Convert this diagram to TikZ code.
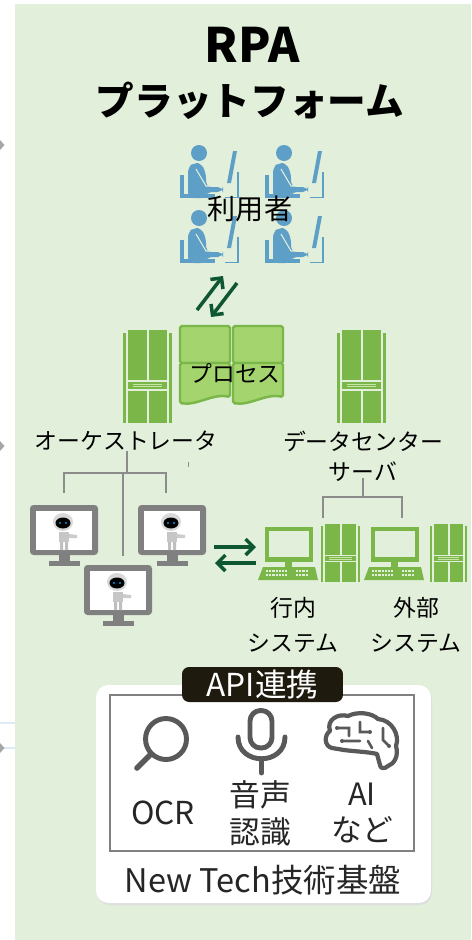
\documentclass[tikz,border=0pt]{standalone}
\usepackage{fontspec}
\setmainfont{Noto Sans CJK JP}
\usepackage{xcolor}
\definecolor{PanelGreen}{HTML}{E2EFDA}
\definecolor{ServerGreen}{HTML}{7AB648}
\definecolor{ProcGreen}{HTML}{A3D46E}
\definecolor{UserBlue}{HTML}{5E9FC7}
\definecolor{FlowGreen}{HTML}{0F5632}
\definecolor{TreeGray}{HTML}{8C8C8C}
\definecolor{MonGray}{HTML}{808080}
\definecolor{IconGray}{HTML}{595959}
\definecolor{ApiDark}{HTML}{1E1A0E}
\definecolor{TextDark}{HTML}{262626}
\definecolor{EdgeBlue}{HTML}{DDEBF7}
\usepackage{tikz}
\usetikzlibrary{positioning,calc,arrows.meta}

\tikzset{
  lbl/.style={font=\fontsize{13}{17}\selectfont, align=center, inner sep=0pt},
  biglbl/.style={font=\fontsize{17.5}{21}\selectfont, text=TextDark, align=center, inner sep=0pt},
  flow/.style={FlowGreen, line width=2pt, -{Straight Barb[length=4.5pt,width=9pt]}},
  tree/.style={TreeGray, line width=1.1pt},
  icon/.style={IconGray, line width=2.8pt, line cap=round, line join=round},
  user/.pic={
    \fill[UserBlue] (19,10) circle (8);
    \fill[UserBlue, rounded corners=3pt] (8,55) -- (8,24) -- (14,20) -- (21,20) -- (26,30) -- (26,44) -- (43,44) -- (43,49) -- (26,49) -- (26,55) -- cycle;
    \draw[PanelGreen, line width=0.6pt] (16,26) -- (26,43) -- (40,43);
    \fill[UserBlue] (0,32) rectangle (4,55);
    \fill[UserBlue] (0,50.5) rectangle (35,55);
    \fill[UserBlue] (53,8) -- (57,8) -- (51,40) -- (47,40) -- cycle;
    \fill[UserBlue] (56.5,29) rectangle (58.5,55);
    \fill[UserBlue] (45,53.5) rectangle (58.5,55);
  },
  server/.pic={
    \fill[ServerGreen] (0,3) rectangle (3,93);
    \fill[ServerGreen] (46,3) rectangle (49,93);
    \fill[ServerGreen] (5,0) rectangle (24,50);
    \fill[ServerGreen] (26,0) rectangle (44,50);
    \fill[ServerGreen] (5,52) rectangle (44,59);
    \fill[ServerGreen] (5,61) rectangle (24,93);
    \fill[ServerGreen] (26,61) rectangle (44,93);
    \draw[ProcGreen!60!white, line width=0.5pt] (10,54) -- (39,54) (10,56.8) -- (39,56.8);
  },
  page/.pic={
    \filldraw[fill=ProcGreen, draw=ServerGreen, line width=1.4pt, rounded corners=1pt] (0,0) rectangle (50,37);
    \filldraw[fill=ProcGreen, draw=ServerGreen, line width=1.4pt, rounded corners=1pt] (0,37) -- (50,37) -- (50,71) .. controls (33,67) and (17,80) .. (0,77) -- cycle;
  },
  botscreen/.pic={
    \fill[MonGray, rounded corners=2pt] (0,0) rectangle (68,50);
    \fill[white] (6,6) rectangle (62,45);
    \fill[MonGray] (29,50) rectangle (40,57);
    \fill[MonGray] (19,56) rectangle (50,61);
    \fill[gray!45] (29,27) rectangle (39,37);
    \fill[gray!40] (39,29) -- (47,30) -- (47,33) -- (39,33) -- cycle;
    \fill[gray!50] (30,37) rectangle (33,45) (35,37) rectangle (38,45);
    \fill[gray!30] (33,17) ellipse (10 and 9);
    \fill[black] (33,18) ellipse (7.5 and 5.5);
    \fill[cyan!80!blue] (30,18) circle (1.2) (36,18) circle (1.2);
  },
  pcset/.pic={
    \fill[ServerGreen] (0,0) rectangle (48,35);
    \fill[PanelGreen] (4,4) rectangle (44,30);
    \fill[ServerGreen] (20,35) rectangle (27,41);
    \fill[ServerGreen] (-2,40) -- (50,40) -- (53,53) -- (-7,53) -- cycle;
    \foreach \r in {42.5,46.5} {
      \foreach \k in {0,...,6} \fill[PanelGreen] (1+3.2*\k,\r) rectangle ++(2.2,2);
      \foreach \k in {0,...,3} \fill[PanelGreen] (31+3.2*\k,\r) rectangle ++(2.2,2);
    }
  }
}

\begin{document}
\begin{tikzpicture}[x=0.02cm, y=-0.02cm]
  \useasboundingbox (0,0) rectangle (471,940);
  \fill[white] (0,0) rectangle (471,940);
  \fill[PanelGreen] (15,4) rectangle (471,940);

  \fill[EdgeBlue] (0,722) rectangle (15,724);
  \fill[EdgeBlue] (0,747) rectangle (15,749);
  \foreach \yy in {145,446,748}
    \fill[gray!70] (0,\yy-5) -- (4.5,\yy) -- (0,\yy+5) -- cycle;

  \node[font=\fontsize{27}{30}\selectfont\bfseries, inner sep=0pt] (title) at (252,45) {RPA};
  \node[font=\fontsize{22}{24}\selectfont\bfseries, inner sep=0pt] (subtitle) at (250,101) {プラットフォーム};

  % users
  \foreach \ux/\uy in {180/143, 265/143, 180/208, 265/208}
    \pic at (\ux,\uy) {user};
  \node[lbl, font=\fontsize{16}{18}\selectfont] (users) at (250,209) {利用者};

  \coordinate (usrA) at (223,276);
  \coordinate (prcA) at (197,310);
  \coordinate (usrB) at (237,283);
  \coordinate (prcB) at (211,317);
  \draw[flow] (prcA) -- (usrA);
  \draw[flow] (usrB) -- (prcB);

  % servers and process
  \pic at (123,330) {server};
  \pic at (337,330) {server};
  \pic at (180,326) {page};
  \pic at (233,326) {page};
  \node[lbl] (process) at (235,373) {プロセス};
  \node[lbl] (orch) at (126,441) {オーケストレータ};
  \node[lbl, font=\fontsize{13}{17}\selectfont] (dc) at (363,456) {データセンター\\サーバ};
  \draw[TreeGray, line width=0.5pt] (188,462) -- (188,467);

  % robots
  \pic at (30,505) {botscreen};
  \pic at (138,505) {botscreen};
  \pic at (84,565) {botscreen};
  \coordinate (orchhub) at (127,473);
  \coordinate (bot1) at (64,493);
  \coordinate (bot2) at (166,493);
  \coordinate (bot3) at (123,556);
  \draw[tree] (orch.south -| orchhub) -- (orchhub);
  \draw[tree] (bot1) -- (bot1 |- orchhub) -- (bot2 |- orchhub) -- (bot2);
  \draw[tree] (bot3 |- orchhub) -- (bot3);

  % systems
  \pic at (265,527) {pcset};
  \pic[xscale=0.8, yscale=0.624] at (321,524) {server};
  \pic at (371,527) {pcset};
  \pic[xscale=0.75, yscale=0.624] at (430,524) {server};
  \coordinate (dchub) at (363,497);
  \coordinate (sys1) at (323,518);
  \coordinate (sys2) at (402,518);
  \draw[tree] (363,478) -- (dchub);
  \draw[tree] (sys1) -- (sys1 |- dchub) -- (sys2 |- dchub) -- (sys2);
  \node[lbl, font=\fontsize{13}{19.5}\selectfont] (inhouse) at (293,625) {行内\\システム};
  \node[lbl, font=\fontsize{13}{19.5}\selectfont] (external) at (416,625) {外部\\システム};

  \coordinate (botR) at (214,547);
  \coordinate (sysL) at (256,547);
  \coordinate (sysL2) at (256,563);
  \coordinate (botR2) at (215,563);
  \draw[flow] (botR) -- (sysL);
  \draw[flow] (sysL2) -- (botR2);

  % new tech base
  \fill[gray!25, rounded corners=7pt] (97,687) rectangle (432,905);
  \node[fill=white, rounded corners=7pt, minimum width=6.7cm, minimum height=4.36cm, inner sep=0pt] (base) at (263.5,794) {};
  \node[draw=MonGray, line width=1.1pt, minimum width=6.08cm, minimum height=3.12cm, inner sep=0pt] (apiframe) at (262,773) {};
  \node[fill=ApiDark, text=white, rounded corners=4pt, minimum width=3.22cm, minimum height=0.7cm, inner sep=0pt, font=\fontsize{18}{20}\selectfont] (api) at (262.5,684.5) {API連携};

  \draw[icon] (166,739) circle (20.5);
  \draw[icon, line width=3.2pt] (151,754) -- (137,768);

  \draw[icon, rounded corners=6pt] (250,710.5) rectangle (272,748);
  \draw[icon] (238,737) .. controls (238,766) and (285,766) .. (285,737);
  \draw[icon] (261.5,759) -- (261.5,773);

  \draw[icon, line width=2.4pt] (332,748) .. controls (324,746) and (324,735) .. (330,731)
    .. controls (326,720) and (338,713) .. (348,716)
    .. controls (358,711) and (372,713) .. (378,719)
    .. controls (392,720) and (400,735) .. (396,746)
    .. controls (399,756) and (394,764) .. (388,766)
    .. controls (385,769) and (380,769) .. (380,765)
    -- (377,754) .. controls (370,752) and (350,751) .. (344,750) -- cycle;
  \draw[IconGray, line width=1.5pt, line cap=round] (337,728) -- (349,728) -- (349,736)
    (360,722) -- (360,732) -- (370,732)
    (342,741) -- (360,741)
    (383,728) -- (383,740) -- (389,746)
    (368,741) -- (372,748);
  \fill[IconGray] (337,728) circle (2) (370,732) circle (2) (342,741) circle (2) (389,746) circle (2);

  \node[biglbl, font=\fontsize{18}{21}\selectfont] (ocr) at (163,813) {OCR};
  \node[biglbl] (speech) at (260,813) {音声\\認識};
  \node[biglbl] (ai) at (362,813) {AI\\など};
  \node[biglbl, font=\fontsize{18.5}{21}\selectfont] (newtech) at (263,880) {New Tech技術基盤};
\end{tikzpicture}
\end{document}
